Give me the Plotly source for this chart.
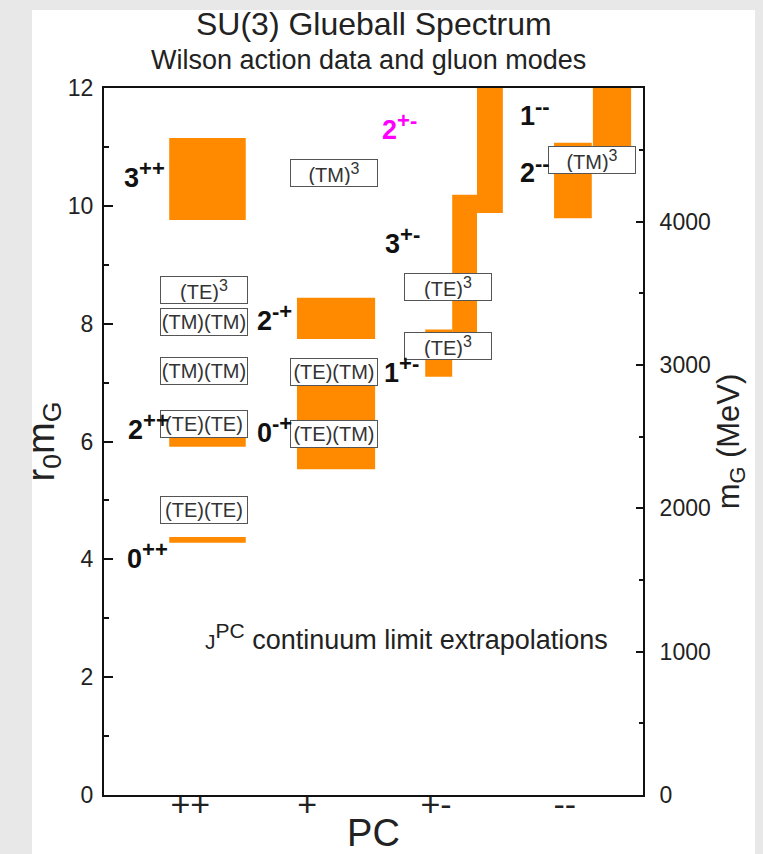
import plotly.graph_objects as go

# ---------------- data ----------------
MEV_PER_UNIT = 411.0  # m_G (MeV) per unit of r0*m_G (right axis scale)

pc_tick_pos = [1.60, 3.77, 6.16, 8.55]
pc_tick_labels = ["++", "+", "+-", "--"]

# orange continuum-limit boxes
box_x0 = [1.21, 1.21, 1.21, 3.58, 3.58, 5.96, 6.46, 6.92, 8.35, 9.07]
box_x1 = [2.63, 2.63, 2.63, 5.03, 5.03, 6.46, 6.92, 7.40, 9.05, 9.78]
box_y0 = [4.28, 5.91, 9.76, 5.53, 7.74, 7.10, 7.70, 9.88, 9.79, 10.90]
box_y1 = [4.38, 6.10, 11.15, 7.00, 8.44, 7.90, 10.19, 12.50, 11.07, 12.50]

# gluon-mode labels
mode_text = ["(TE)<sup>3</sup>", "(TM)(TM)", "(TM)(TM)", "(TE)(TE)", "(TE)(TE)",
             "(TM)<sup>3</sup>", "(TE)(TM)", "(TE)(TM)",
             "(TE)<sup>3</sup>", "(TE)<sup>3</sup>",
             "(TM)<sup>3</sup>"]
mode_x = [1.855, 1.855, 1.855, 1.855, 1.855,
          4.27, 4.27, 4.27,
          6.38, 6.38,
          9.05]
mode_y = [8.57, 8.03, 7.20, 6.30, 4.84,
          10.56, 7.18, 6.13,
          8.62, 7.62,
          10.78]

# J^PC state labels
jpc_j = ["0", "2", "3", "0", "2", "1", "3", "2", "1", "2"]
jpc_pc = ["++", "++", "++", "-+", "-+", "+-", "+-", "+-", "--", "--"]
jpc_x = [0.39, 0.41, 0.33, 2.80, 2.80, 5.16, 5.18, 5.12, 7.68, 7.68]
jpc_y = [4.07, 6.26, 10.54, 6.20, 8.10, 7.23, 9.42, 11.34, 11.58, 10.61]
jpc_color = ["#111", "#111", "#111", "#111", "#111", "#111", "#111", "#ff00ff", "#111", "#111"]

FONT = "Liberation Sans, Arial, Helvetica, sans-serif"
ORANGE = "#ff8a00"

fig = go.Figure()

fig.add_trace(go.Bar(
    x=[(a + b) / 2 for a, b in zip(box_x0, box_x1)],
    width=[b - a for a, b in zip(box_x0, box_x1)],
    base=box_y0,
    y=[b - a for a, b in zip(box_y0, box_y1)],
    marker=dict(color=ORANGE, line=dict(width=0)),
    showlegend=False, hoverinfo="skip",
))

# invisible trace to attach the MeV axis
fig.add_trace(go.Scatter(x=[pc_tick_pos[0]], y=[0], yaxis="y2", mode="markers",
                         marker=dict(opacity=0), showlegend=False, hoverinfo="skip"))

ann = []
for t, x, y in zip(mode_text, mode_x, mode_y):
    t = t.replace("<sup>", "<sup><span style='font-size:16px'>").replace("</sup>", "</span></sup>")
    ann.append(dict(x=x, y=y, xref="x", yref="y", text=t, showarrow=False,
                    font=dict(family=FONT, size=20, color="#333"),
                    bgcolor="white", bordercolor="#555", borderwidth=1, borderpad=1,
                    width=84, height=24, align="center"))

for j, pc, x, y, c in zip(jpc_j, jpc_pc, jpc_x, jpc_y, jpc_color):
    ann.append(dict(x=x, y=y, xref="x", yref="y",
                    text="<b>%s<sup><span style='font-size:22px'>%s</span></sup></b>" % (j, pc),
                    showarrow=False, xanchor="left", yanchor="middle",
                    font=dict(family=FONT, size=27, color=c)))

ann.append(dict(x=5.62, y=2.68, xref="x", yref="y",
                text="<span style='font-size:21px'>J</span><sup><span style='font-size:21px'>PC</span></sup> continuum limit extrapolations",
                showarrow=False, font=dict(family=FONT, size=27, color="#222")))

ann.append(dict(x=0.5, y=1.0905, xref="paper", yref="paper", yanchor="middle",
                text="SU(3) Glueball Spectrum",
                showarrow=False, font=dict(family=FONT, size=32, color="#222")))
ann.append(dict(x=0.49, y=1.0396, xref="paper", yref="paper", yanchor="middle",
                text="Wilson action data and gluon modes",
                showarrow=False, font=dict(family=FONT, size=27, color="#222")))

fig.update_layout(
    width=763, height=854,
    margin=dict(l=104, r=120, t=88, b=59, autoexpand=False),
    paper_bgcolor="#e8e8e8", plot_bgcolor="white",
    font=dict(family=FONT, color="#222"),
    annotations=ann,
    shapes=[dict(type="rect", xref="paper", yref="paper", x0=-0.1336, x1=1.2078,
                 y0=-0.09, y1=1.1103, fillcolor="white", line=dict(width=0), layer="below")],
    xaxis=dict(range=[0, 10], tickvals=pc_tick_pos, ticktext=pc_tick_labels,
               showline=True, linecolor="#111", linewidth=2, mirror=True,
               showgrid=False, zeroline=False, ticks="", layer="below traces",
               tickfont=dict(size=34), ticklabelstandoff=-22, automargin=False,
               title=dict(text="PC", font=dict(size=38), standoff=0)),
    yaxis=dict(range=[0, 12], tickvals=[0, 2, 4, 6, 8, 10, 12],
               showline=True, linecolor="#111", linewidth=2, automargin=False,
               showgrid=False, zeroline=False, ticks="inside", ticklen=9, tickwidth=1.5,
               tickcolor="#111", tickfont=dict(size=23), ticklabelstandoff=4,
               minor=dict(ticks="inside", ticklen=5, dtick=1, tick0=0, tickcolor="#111", tickwidth=1.5),
               title=dict(text="r<sub>0</sub>m<sub>G</sub>", font=dict(size=38), standoff=2)),
    yaxis2=dict(range=[0, 12 * MEV_PER_UNIT], overlaying="y", side="right",
                tickvals=[0, 1000, 2000, 3000, 4000], automargin=False,
                showline=True, linecolor="#111", linewidth=2,
                showgrid=False, zeroline=False, ticks="inside", ticklen=7, tickwidth=1.5,
                tickcolor="#111", tickfont=dict(size=23), ticklabelstandoff=10,
                minor=dict(ticks="inside", ticklen=4, dtick=500, tick0=0, tickcolor="#111", tickwidth=1.5),
                title=dict(text="m<sub>G</sub> (MeV)", font=dict(size=31), standoff=4)),
)

fig.write_html("out.html")
